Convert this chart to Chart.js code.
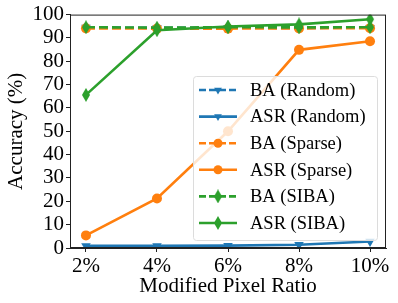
<!DOCTYPE html>
<html>
<head>
<meta charset="utf-8">
<script src="https://cdn.jsdelivr.net/npm/chart.js@4"></script>
<style>
  html, body { margin: 0; padding: 0; background: #fff; }
  #wrap { width: 398px; height: 303px; position: relative; }
</style>
</head>
<body>
<div id="wrap"><canvas id="chart"></canvas></div>
<script>
const ratios = [2, 4, 6, 8, 10];
const tickValues = [2, 4, 6, 8, 10];
const yTicks = [0, 10, 20, 30, 40, 50, 60, 70, 80, 90, 100];

const baRandom = [94.5, 94.3, 94.4, 94.3, 94.4];
const asrRandom = [0.9, 0.9, 1.0, 1.4, 2.8];
const baSparse = [94.1, 94.0, 94.0, 94.1, 94.2];
const asrSparse = [5.4, 21.2, 50.0, 84.9, 88.6];
const baSiba = [94.6, 94.4, 94.6, 94.5, 94.6];
const asrSiba = [65.6, 93.3, 94.9, 95.8, 98.0];

const blue = '#1f77b4', orange = '#ff7f0e', green = '#2ca02c';
const FONT = '"Liberation Serif", "DejaVu Serif", serif';

function thinDiamond(color) {
    const c = document.createElement('canvas');
    c.width = 10; c.height = 14;
    const g = c.getContext('2d');
    g.fillStyle = color;
    g.beginPath();
    g.moveTo(5, 0); g.lineTo(9, 7); g.lineTo(5, 14); g.lineTo(1, 7);
    g.closePath();
    g.fill();
    return c;
}
const diamond = thinDiamond(green);

function series(label, data, color, dashed, style) {
    const ds = {
        label, data: ratios.map((x, i) => ({ x, y: data[i] })),
        borderColor: color, backgroundColor: color,
        borderWidth: 2.6, borderDash: dashed ? [9, 4] : [],
        pointBackgroundColor: color, pointBorderColor: color,
        pointRadius: 5, pointBorderWidth: 0, tension: 0,
        pointStyle: style, pointRotation: 0
    };
    if (style === 'triangle') { ds.pointRotation = 180; ds.pointRadius = 5.5; }
    return ds;
}

const datasets = [
    series('BA (Random)', baRandom, blue, true, 'triangle'),
    series('ASR (Random)', asrRandom, blue, false, 'triangle'),
    series('BA (Sparse)', baSparse, orange, true, 'circle'),
    series('ASR (Sparse)', asrSparse, orange, false, 'circle'),
    series('BA (SIBA)', baSiba, green, true, diamond),
    series('ASR (SIBA)', asrSiba, green, false, diamond)
];
datasets.forEach((d, i) => { d.order = datasets.length - i; });

const frame = {
    id: 'frame',
    afterDatasetsDraw(chart) {
        const { ctx, chartArea: a } = chart;
        ctx.save();
        ctx.strokeStyle = '#222';
        ctx.lineWidth = 1;
        ctx.strokeRect(a.left + 0.5, a.top + 0.5, a.right - a.left - 1, a.bottom - a.top - 1);
        ctx.restore();
    }
};

// matplotlib-style legend box inside the plot
const boxLegend = {
    id: 'boxLegend',
    afterDatasetsDraw(chart) {
        const ctx = chart.ctx;
        const x0 = 193, y0 = 76, w = 184, h = 164, rowH = 26.6;
        ctx.save();
        ctx.fillStyle = 'rgba(255,255,255,0.8)';
        ctx.strokeStyle = '#dcdcdc';
        ctx.lineWidth = 1;
        ctx.beginPath();
        ctx.roundRect(x0 + 0.5, y0 + 0.5, w, h, 3);
        ctx.fill();
        ctx.stroke();
        chart.data.datasets.forEach((ds, i) => {
            const cy = y0 + 14 + i * rowH;
            ctx.strokeStyle = ds.borderColor;
            ctx.lineWidth = ds.borderWidth;
            ctx.setLineDash(ds.borderDash.length ? [7, 3] : []);
            ctx.beginPath();
            ctx.moveTo(199, cy);
            ctx.lineTo(237, cy);
            ctx.stroke();
            ctx.setLineDash([]);
            ctx.fillStyle = ds.borderColor;
            ctx.strokeStyle = ds.borderColor;
            Chart.helpers.drawPoint(ctx, {
                pointStyle: ds.pointStyle, rotation: ds.pointRotation,
                radius: 4.5, borderWidth: 0
            }, 218, cy);
            ctx.fillStyle = '#000';
            ctx.font = '18.5px ' + FONT;
            ctx.textBaseline = 'middle';
            ctx.fillText(ds.label, 250, cy + 1);
        });
        ctx.restore();
    }
};

new Chart(document.getElementById('chart'), {
    type: 'line',
    data: { datasets },
    options: {
        responsive: true,
        maintainAspectRatio: false,
        animation: false,
        layout: { padding: { top: 14, right: 12, left: 0, bottom: 0 } },
        plugins: { legend: { display: false }, tooltip: { enabled: false } },
        scales: {
            x: {
                type: 'linear', min: 1.55, max: 10.45,
                afterBuildTicks: s => { s.ticks = tickValues.map(v => ({ value: v })); },
                afterFit: s => { s.height = 55; },
                grid: { drawOnChartArea: false, tickLength: 4, color: '#222' },
                border: { color: '#222' },
                ticks: { color: '#000', padding: 2, autoSkip: false, font: { family: FONT, size: 21 }, maxRotation: 0, callback: v => v + '%' },
                title: { display: true, text: 'Modified Pixel Ratio', color: '#000', font: { family: FONT, size: 21 }, padding: { top: 0 } }
            },
            y: {
                min: 0, max: 100,
                afterBuildTicks: s => { s.ticks = yTicks.map(v => ({ value: v })); },
                afterFit: s => { s.width = 70; },
                grid: { drawOnChartArea: false, tickLength: 4, color: '#222' },
                border: { color: '#222' },
                ticks: { color: '#000', padding: 2, autoSkip: false, font: { family: FONT, size: 21 } },
                title: { display: true, text: 'Accuracy (%)', color: '#000', font: { family: FONT, size: 21 }, padding: { bottom: 0 } }
            }
        }
    },
    plugins: [frame, boxLegend]
});
</script>
</body>
</html>
